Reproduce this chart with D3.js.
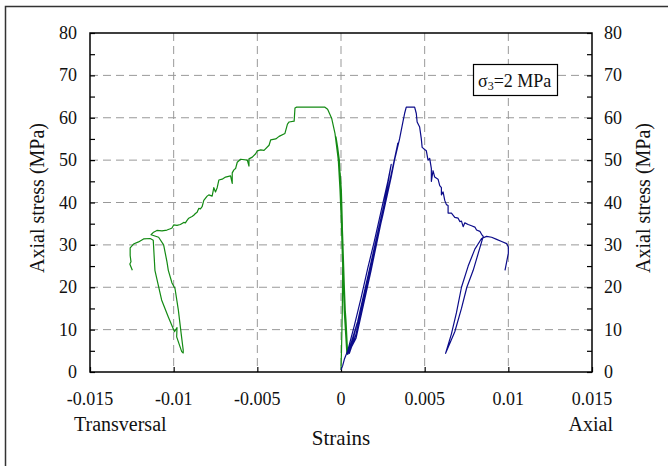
<!DOCTYPE html>
<html>
<head>
<meta charset="utf-8">
<script src="https://cdn.jsdelivr.net/npm/d3@7.9.0/dist/d3.min.js"></script>
<style>
  body { margin: 0; background: #fff; }
  svg { display: block; }
  text { font-family: 'Liberation Serif', 'DejaVu Serif', serif; }
</style>
</head>
<body>
<svg id="chart" width="668" height="466"></svg>
<script>
// strain ticks and stress ticks
const strainTicks = [-0.015, -0.01, -0.005, 0, 0.005, 0.01, 0.015];
const strainLabels = ['-0.015', '-0.01', '-0.005', '0', '0.005', '0.01', '0.015'];
const stressTicks = [0, 10, 20, 30, 40, 50, 60, 70, 80];

// transversal strain vs axial stress
const transversal = [
  [0, 0.5], [0.00003, 5], [0.00008, 15], [0.0001, 25], [0.00008, 35], [0.00002, 43], [-0.00005, 47],
  [0.0, 38], [0.0001, 25], [0.0002, 14], [0.00035, 4.4],
  [0.0003, 10], [0.0002, 20], [0.0001, 32], [0.0, 42], [-0.0001, 50], [-0.0002, 53], [-0.0003, 55.5],
  [-0.0001, 50], [0.0, 40], [0.0001, 28], [0.0002, 17], [0.0003, 8], [0.0004, 4.2],
  [0.0003, 12], [0.00024, 15.4], [0.00014, 22.5], [0.00004, 33.5], [-0.00006, 43], [-0.00016, 50],
  [-0.00036, 56.3], [-0.00056, 59.9], [-0.0008, 62], [-0.00096, 62.5], [-0.00265, 62.5],
  [-0.00275, 62.3], [-0.0028, 59.2], [-0.0031, 59], [-0.0032, 58.5], [-0.00335, 56.3], [-0.0037, 55.6],
  [-0.0039, 55], [-0.0042, 54.8], [-0.0043, 53.5], [-0.0046, 52.3], [-0.0048, 52.4], [-0.005, 52.2],
  [-0.0051, 51.5], [-0.0053, 50.7], [-0.0055, 50.3], [-0.0055, 48.6], [-0.0056, 50], [-0.006, 50.2],
  [-0.0062, 49.5], [-0.0063, 48], [-0.0064, 47.7], [-0.0065, 47], [-0.0065, 44.5], [-0.0066, 46.3],
  [-0.0069, 46], [-0.0071, 45.5], [-0.0073, 45.3], [-0.0074, 43.5], [-0.0075, 42.5], [-0.0076, 43.5],
  [-0.0077, 41.5], [-0.0079, 41.8], [-0.008, 41.5], [-0.0082, 40.5], [-0.0083, 39], [-0.0084, 38.5],
  [-0.0085, 38.6], [-0.0086, 37.7], [-0.0087, 37.4], [-0.0088, 37], [-0.0089, 36.7], [-0.0091, 36.3],
  [-0.0092, 35.8], [-0.0093, 35.2], [-0.0094, 35.3], [-0.0096, 34.8], [-0.0098, 34.6], [-0.01, 34.7],
  [-0.0101, 34], [-0.0102, 33.8], [-0.0104, 33.5], [-0.0107, 33.3], [-0.011, 33.4], [-0.0112, 33.0],
  [-0.01135, 32.4], [-0.0109, 31.8],
  [-0.0106, 30], [-0.0104, 26], [-0.01032, 24], [-0.0101, 21], [-0.00992, 19.7], [-0.00972, 14.6], [-0.00955, 9], [-0.00943, 5.2], [-0.00943, 4.5],
  [-0.00952, 4.8], [-0.00982, 8.3], [-0.0098, 10.5], [-0.00995, 9.5], [-0.01032, 13], [-0.01072, 17], [-0.01112, 24], [-0.01122, 31.1],
  [-0.0114, 31.5], [-0.0118, 31.4], [-0.0121, 30.7], [-0.0124, 30.2], [-0.0126, 29.3], [-0.0126, 27.5],
  [-0.01255, 26], [-0.01262, 25.5], [-0.01247, 24]
];

// axial strain vs axial stress
const axial = [
  [0, 0.5], [0.0001, 1.5], [0.0002, 3], [0.0004, 5], [0.0008, 11], [0.0012, 17.5], [0.0016, 24.5],
  [0.002, 31], [0.0024, 38], [0.0028, 45], [0.003, 49],
  [0.0026, 40], [0.0018, 26], [0.001, 12], [0.0005, 4.4],
  [0.0009, 9], [0.0014, 18], [0.0019, 27], [0.0025, 37], [0.003, 46], [0.0034, 54],
  [0.0028, 43], [0.0018, 24], [0.0009, 8], [0.0004, 4.2],
  [0.001, 12], [0.0016, 22], [0.0022, 33], [0.0028, 43], [0.0032, 50], [0.0035, 55], [0.0037, 59],
  [0.0038, 61], [0.0039, 62.5], [0.0044, 62.5], [0.0045, 61], [0.00455, 59], [0.0047, 57.8], [0.0048, 55],
  [0.00485, 53], [0.005, 52.5], [0.0051, 52.2], [0.0052, 50], [0.0053, 50.4], [0.0054, 48], [0.0054, 45],
  [0.0055, 47.5], [0.0056, 46], [0.0058, 45.5], [0.0059, 44], [0.006, 43.5], [0.006, 41.8], [0.0061, 42.5],
  [0.0062, 40.5], [0.0063, 39.5], [0.0064, 39.3], [0.0064, 37.5], [0.0066, 37.5], [0.0068, 36.5],
  [0.007, 36.3], [0.0071, 35.5], [0.0072, 35.6], [0.0073, 34.3], [0.0074, 35.2], [0.0076, 34.8],
  [0.0078, 34.5], [0.008, 34.2], [0.0081, 33.5], [0.0083, 33.2], [0.0084, 32.5], [0.0085, 32.0],
  [0.0082, 28], [0.0079, 24], [0.00752, 20], [0.0072, 15], [0.0068, 9.5], [0.00625, 4.4],
  [0.0066, 9], [0.0069, 14], [0.0072, 20], [0.0076, 25], [0.008, 29], [0.0084, 31.5], [0.0087, 32],
  [0.009, 31.8], [0.0093, 31.3], [0.0096, 30.8], [0.0099, 30.3], [0.01, 29.5], [0.01, 28],
  [0.0099, 26], [0.0098, 24]
];

const svg = d3.select('#chart');
const plotLeft = 90, plotRight = 592, plotTop = 33, plotBottom = 372;
const serif = "'Liberation Serif', 'DejaVu Serif', serif";

const x = d3.scaleLinear().domain([-0.015, 0.015]).range([plotLeft, plotRight]);
const y = d3.scaleLinear().domain([0, 80]).range([plotBottom, plotTop]);

// outer frame
svg.append('rect')
   .attr('x', 5.5).attr('y', 6.5)
   .attr('width', 680).attr('height', 480)
   .attr('fill', 'none').attr('stroke', '#333').attr('stroke-width', 1.5);

// dashed grid
const grid = svg.append('g')
   .attr('stroke', '#999').attr('stroke-width', 1).attr('stroke-dasharray', '8,5');
strainTicks.slice(1, -1).forEach(v => {
  grid.append('line').attr('x1', x(v)).attr('x2', x(v)).attr('y1', plotTop).attr('y2', plotBottom);
});
stressTicks.slice(1, -1).forEach(v => {
  grid.append('line').attr('x1', plotLeft).attr('x2', plotRight).attr('y1', y(v)).attr('y2', y(v));
});

// ticks pointing inward
const yMinor = d3.range(0, 81, 5);
svg.append('g').attr('transform', `translate(${plotLeft},0)`)
   .call(d3.axisRight(y).tickValues(yMinor).tickSize(5).tickFormat(''))
   .call(g => g.select('.domain').remove());
svg.append('g').attr('transform', `translate(${plotRight},0)`)
   .call(d3.axisLeft(y).tickValues(yMinor).tickSize(5).tickFormat(''))
   .call(g => g.select('.domain').remove());
svg.append('g').attr('transform', `translate(0,${plotBottom})`)
   .call(d3.axisTop(x).tickValues(strainTicks).tickSize(5).tickFormat(''))
   .call(g => g.select('.domain').remove());
svg.selectAll('.tick line').attr('stroke', '#000').attr('stroke-width', 1.2);

// series
const line = d3.line().x(d => x(d[0])).y(d => y(d[1]));
svg.append('path').datum(transversal)
   .attr('d', line).attr('fill', 'none')
   .attr('stroke', '#138a13').attr('stroke-width', 1.2).attr('stroke-linejoin', 'round');
svg.append('path').datum(axial)
   .attr('d', line).attr('fill', 'none')
   .attr('stroke', '#0c0c8a').attr('stroke-width', 1.2).attr('stroke-linejoin', 'round');

// frame of the plot
svg.append('rect')
   .attr('x', plotLeft).attr('y', plotTop)
   .attr('width', plotRight - plotLeft).attr('height', plotBottom - plotTop)
   .attr('fill', 'none').attr('stroke', '#000').attr('stroke-width', 1.5);

// tick labels
const labels = svg.append('g').attr('font-family', serif).attr('font-size', 18).attr('fill', '#111');
stressTicks.forEach(v => {
  labels.append('text').attr('x', plotLeft - 13).attr('y', y(v) + 6)
        .attr('text-anchor', 'end').text(v);
  labels.append('text').attr('x', plotRight + 12).attr('y', y(v) + 6)
        .attr('text-anchor', 'start').text(v);
});
strainTicks.forEach((v, i) => {
  labels.append('text').attr('x', x(v)).attr('y', 405)
        .attr('text-anchor', 'middle').text(strainLabels[i]);
});

// axis titles
const titles = svg.append('g').attr('font-family', serif).attr('font-size', 20).attr('fill', '#111');
titles.append('text').attr('x', 74).attr('y', 431).text('Transversal');
titles.append('text').attr('x', 613).attr('y', 431).attr('text-anchor', 'end').text('Axial');
titles.append('text').attr('x', 341).attr('y', 445).attr('text-anchor', 'middle')
      .attr('font-size', 21).text('Strains');
titles.append('text').attr('transform', 'translate(44,198) rotate(-90)')
      .attr('text-anchor', 'middle').text('Axial stress (MPa)');
titles.append('text').attr('transform', 'translate(650,198) rotate(-90)')
      .attr('text-anchor', 'middle').text('Axial stress (MPa)');

// sigma box
svg.append('rect')
   .attr('x', 473.5).attr('y', 64.5).attr('width', 84).attr('height', 31)
   .attr('fill', '#fff').attr('stroke', '#000').attr('stroke-width', 1.2);
const sig = svg.append('text').attr('x', 478).attr('y', 87)
   .attr('font-family', serif).attr('font-size', 18).attr('fill', '#111');
sig.append('tspan').text('σ');
sig.append('tspan').attr('font-size', 12).attr('dy', 3).text('3');
sig.append('tspan').attr('dy', -3).text('=2 MPa');
</script>
</body>
</html>
